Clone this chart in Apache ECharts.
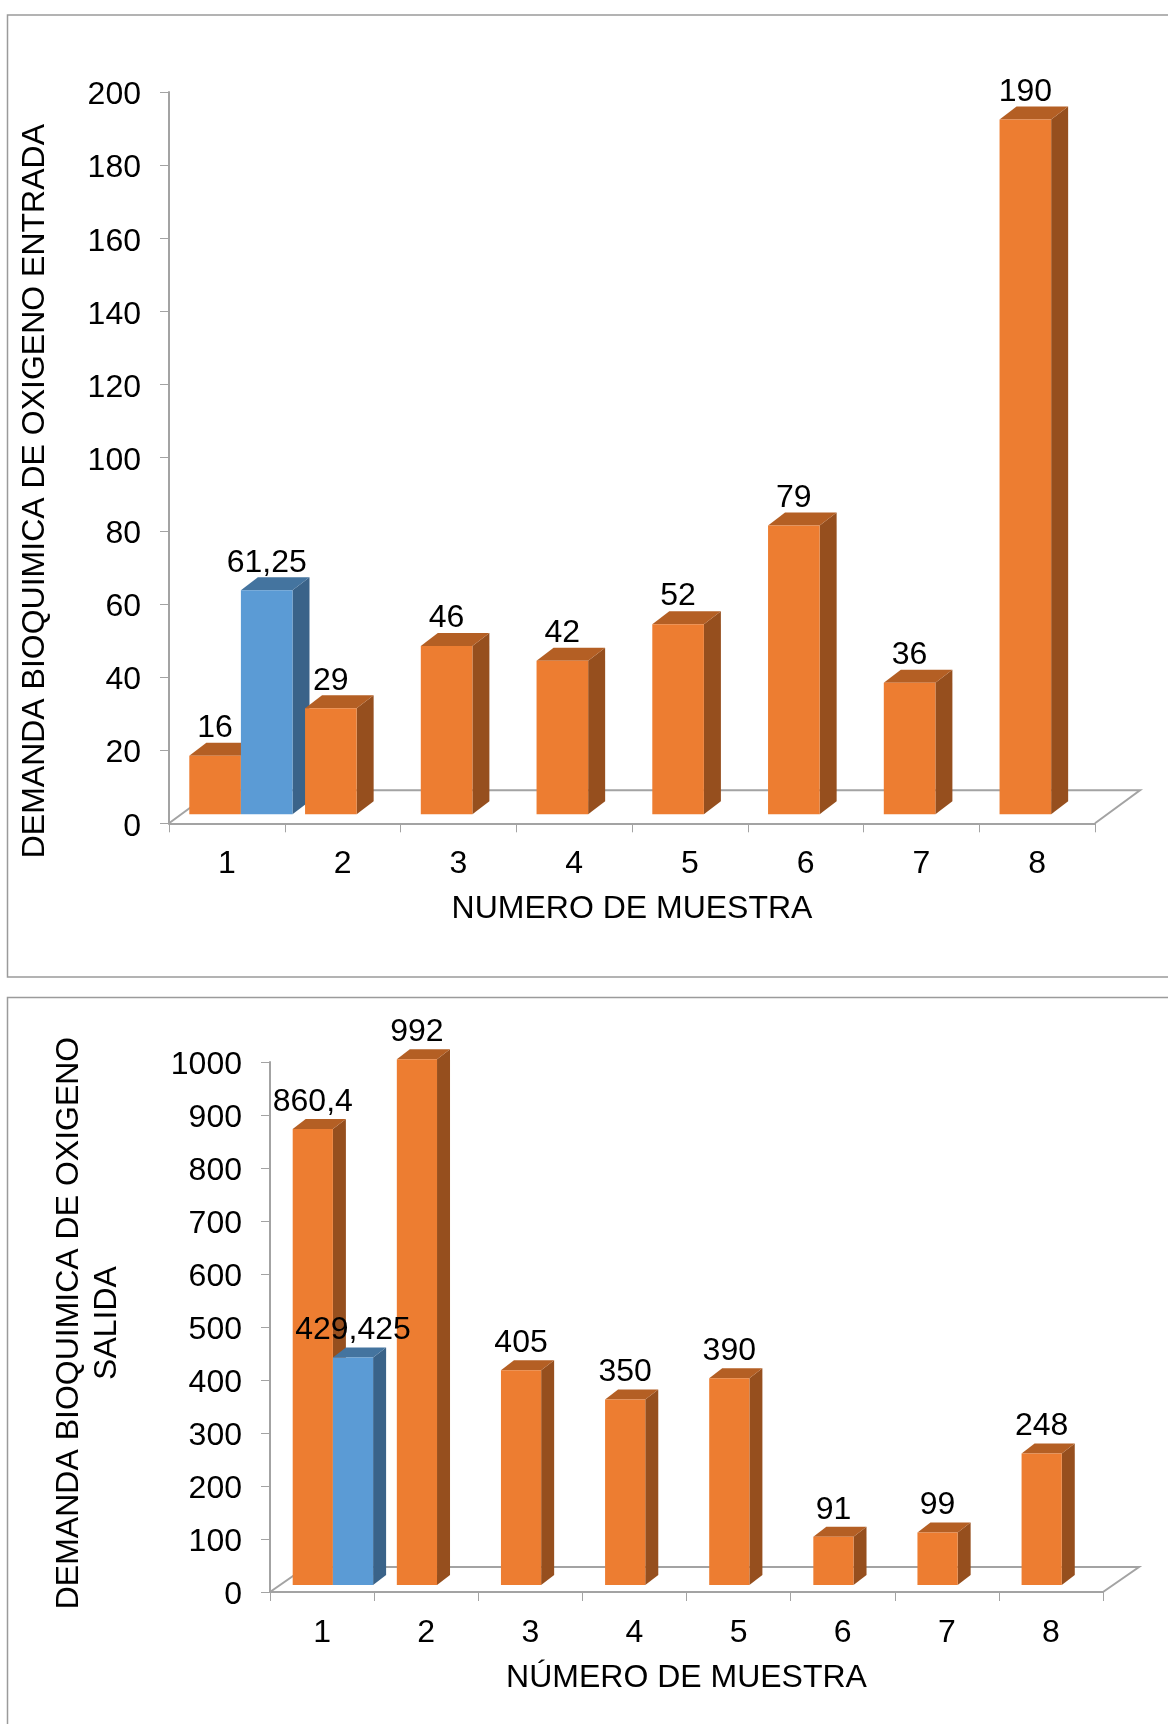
<!DOCTYPE html>
<html>
<head>
<meta charset="utf-8">
<style>
  html, body { margin: 0; padding: 0; background: #fff; }
  #chart { width: 1168px; height: 1724px; }
</style>
<script src="https://cdn.jsdelivr.net/npm/echarts@6/dist/echarts.min.js"></script>
</head>
<body>
<div id="chart"></div>
<script>
// Sample numbers shared by both panels
const sampleLabels = ['1', '2', '3', '4', '5', '6', '7', '8'];

// Biochemical oxygen demand at the inlet
const inletSamples = [16, 29, 46, 42, 52, 79, 36, 190];
const inletMean = [61.25, null, null, null, null, null, null, null];

// Biochemical oxygen demand at the outlet
const outletSamples = [860.4, 992, 405, 350, 390, 91, 99, 248];
const outletMean = [429.425, null, null, null, null, null, null, null];

const FONT = '"Liberation Sans", Arial, sans-serif';
const TEXT_SIZE = 32;
const AXIS_GREY = '#a3a3a3';
const ORANGE = { front: '#ed7d31', top: '#b45f24', side: '#964f1e' };
const BLUE = { front: '#5b9bd5', top: '#44749f', side: '#3a6389' };

// Pseudo-3D geometry of each panel, in pixels relative to the grid
const inletGeom = { inset: 20.3, width: 51.6, lift: 9, dx: 17, dy: 13, floorX: 45, floorY: 33, labelGap: 27.5 };
const outletGeom = { inset: 22.7, width: 40.2, lift: 7, dx: 13, dy: 10, floorX: 36, floorY: 25, labelGap: 27 };

const toPairs = (values) => values
  .map((v, i) => [i, v])
  .filter((pair) => pair[1] !== null);

const formatValue = (v) => String(v).replace('.', ',');

// A box in oblique projection with its value printed above the front face
function boxRenderer(geom, palette, slot) {
  return function (params, api) {
    const index = api.value(0);
    const value = api.value(1);
    const catWidth = api.size([1, 0])[0];
    const left = api.coord([index, 0])[0] - catWidth / 2 + geom.inset + slot * geom.width;
    const right = left + geom.width;
    const base = api.coord([index, 0])[1] - geom.lift;
    const top = base - (api.coord([index, 0])[1] - api.coord([index, value])[1]);
    const order = index * 10 + slot;
    const shapes = [
      { type: 'polygon', z2: order, silent: true,
        shape: { points: [[right, top], [right + geom.dx, top - geom.dy], [right + geom.dx, base - geom.dy], [right, base]] },
        style: { fill: palette.side } },
      { type: 'polygon', z2: order, silent: true,
        shape: { points: [[left, top], [left + geom.dx, top - geom.dy], [right + geom.dx, top - geom.dy], [right, top]] },
        style: { fill: palette.top } },
      { type: 'rect', z2: order + 1, silent: true,
        shape: { x: left, y: top, width: geom.width, height: base - top },
        style: { fill: palette.front } },
      { type: 'text', z2: 1000, silent: true,
        x: (left + right) / 2, y: top - geom.labelGap,
        style: { text: formatValue(value), fill: '#000', font: TEXT_SIZE + 'px ' + FONT, align: 'center', verticalAlign: 'middle' } }
    ];
    return { type: 'group', children: shapes };
  };
}

// Floor outline of the plot: left and right diagonals plus the back edge
function floorRenderer(geom) {
  return function (params, api) {
    const c = params.coordSys;
    const y0 = c.y + c.height;
    const x0 = c.x;
    const x1 = c.x + c.width;
    return {
      type: 'polyline',
      z2: -10,
      silent: true,
      shape: { points: [[x0, y0], [x0 + geom.floorX, y0 - geom.floorY], [x1 + geom.floorX, y0 - geom.floorY], [x1, y0]] },
      style: { stroke: AXIS_GREY, lineWidth: 2, fill: null }
    };
  };
}

function barSeries(axisIndex, values, geom, palette, slot) {
  return {
    type: 'custom',
    xAxisIndex: axisIndex,
    yAxisIndex: axisIndex,
    coordinateSystem: 'cartesian2d',
    clip: false,
    silent: true,
    renderItem: boxRenderer(geom, palette, slot),
    encode: { x: 0, y: 1 },
    data: toPairs(values)
  };
}

function floorSeries(axisIndex, geom) {
  return {
    type: 'custom',
    xAxisIndex: axisIndex,
    yAxisIndex: axisIndex,
    coordinateSystem: 'cartesian2d',
    clip: false,
    silent: true,
    renderItem: floorRenderer(geom),
    encode: { x: 0, y: 1 },
    data: [[0, 0]]
  };
}

function categoryAxis(gridIndex, title, nameGap) {
  return {
    type: 'category',
    gridIndex,
    data: sampleLabels,
    boundaryGap: true,
    name: title,
    nameLocation: 'middle',
    nameGap,
    nameMoveOverlap: false,
    nameTextStyle: { color: '#000', fontFamily: FONT, fontSize: TEXT_SIZE },
    axisLine: { show: true, onZero: false, lineStyle: { color: AXIS_GREY, width: 2 } },
    axisTick: { show: true, alignWithLabel: false, length: 9, lineStyle: { color: AXIS_GREY, width: 1 } },
    axisLabel: { color: '#000', fontFamily: FONT, fontSize: TEXT_SIZE, margin: 25 },
    splitLine: { show: false }
  };
}

function valueAxis(gridIndex, max, interval, title, nameGap, nudge) {
  return {
    type: 'value',
    gridIndex,
    min: 0,
    max,
    interval,
    name: title,
    nameLocation: 'middle',
    nameGap,
    nameRotate: 90,
    nameMoveOverlap: false,
    nameTextStyle: {
      color: '#000', fontFamily: FONT, fontSize: TEXT_SIZE, lineHeight: 38, align: 'center',
      padding: nudge
    },
    axisLine: { show: true, lineStyle: { color: AXIS_GREY, width: 2 } },
    axisTick: { show: true, length: 9, lineStyle: { color: AXIS_GREY, width: 1 } },
    axisLabel: {
      color: '#000', fontFamily: FONT, fontSize: TEXT_SIZE, margin: 28,
      formatter: (v) => '{tick|' + v + '}',
      rich: { tick: { color: '#000', fontFamily: FONT, fontSize: TEXT_SIZE, padding: [7, 0, 0, 0] } }
    },
    splitLine: { show: false }
  };
}

const chart = echarts.init(document.getElementById('chart'), null, { renderer: 'canvas' });

chart.setOption({
  animation: false,
  backgroundColor: '#ffffff',
  graphic: [
    { type: 'rect', silent: true, z: -1, shape: { x: 7.5, y: 15, width: 1200, height: 962 },
      style: { fill: 'transparent', stroke: '#9b9b9b', lineWidth: 1.5 } },
    { type: 'rect', silent: true, z: -1, shape: { x: 7.5, y: 997.5, width: 1200, height: 800 },
      style: { fill: 'transparent', stroke: '#9b9b9b', lineWidth: 1.5 } }
  ],
  grid: [
    { left: 169, top: 92, width: 926, height: 731.3, outerBoundsMode: 'none' },
    { left: 270, top: 1062, width: 833, height: 530, outerBoundsMode: 'none' }
  ],
  xAxis: [
    categoryAxis(0, 'NUMERO DE MUESTRA', 70),
    categoryAxis(1, 'NÚMERO DE MUESTRA', 70)
  ],
  yAxis: [
    valueAxis(0, 200, 20, 'DEMANDA BIOQUIMICA DE OXIGENO ENTRADA', 115, [0, 67, 0, 0]),
    valueAxis(1, 1000, 100, 'DEMANDA BIOQUIMICA DE OXIGENO\nSALIDA', 144, [0, 0, 0, 8])
  ],
  series: [
    floorSeries(0, inletGeom),
    barSeries(0, inletSamples, inletGeom, ORANGE, 0),
    barSeries(0, inletMean, inletGeom, BLUE, 1),
    floorSeries(1, outletGeom),
    barSeries(1, outletSamples, outletGeom, ORANGE, 0),
    barSeries(1, outletMean, outletGeom, BLUE, 1)
  ]
});
</script>
</body>
</html>
